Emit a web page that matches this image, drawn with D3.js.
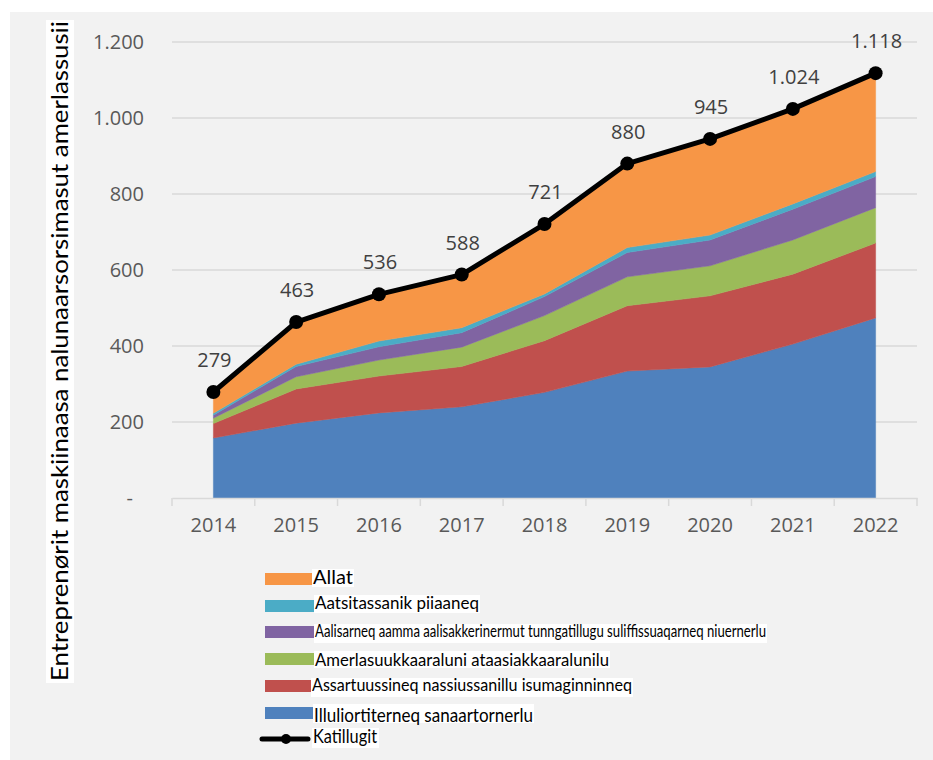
<!DOCTYPE html>
<html>
<head>
<meta charset="utf-8">
<script src="https://cdn.jsdelivr.net/npm/d3@7"></script>
<style>
  body { margin: 0; background: #fff; }
  svg { display: block; }
</style>
</head>
<body>
<div id="chart"></div>
<script>
var years = ["2014", "2015", "2016", "2017", "2018", "2019", "2020", "2021", "2022"];

// stacked series, bottom to top
var illuliortiterneq = [158, 197, 224, 240, 278, 334, 345, 405, 474];
var assartuussineq = [38, 90, 97, 106, 136, 172, 187, 184, 197];
var amerlasuukk = [14, 32, 42, 51, 66, 76, 79, 90, 93];
var aalisarneq = [8, 27, 35, 38, 50, 64, 68, 81, 82];
var aatsitassanik = [5, 6, 15, 13, 7, 13, 13, 14, 13];
var allat = [56, 111, 123, 140, 184, 221, 253, 250, 259];
var katillugit = [279, 463, 536, 588, 721, 880, 945, 1024, 1118];

var yTicks = [0, 200, 400, 600, 800, 1000, 1200];

var seriesNames = [
  "Illuliortiterneq sanaartornerlu",
  "Assartuussineq nassiussanillu isumaginninneq",
  "Amerlasuukkaaraluni ataasiakkaaralunilu",
  "Aalisarneq aamma aalisakkerinermut tunngatillugu suliffissuaqarneq niuernerlu",
  "Aatsitassanik piiaaneq",
  "Allat"
];
var seriesValues = [illuliortiterneq, assartuussineq, amerlasuukk, aalisarneq, aatsitassanik, allat];
var colors = ["#4f81bd", "#c0504d", "#9bbb59", "#8064a2", "#4bacc6", "#f79646"];

var width = 933, height = 760;
var svg = d3.select("#chart").append("svg")
  .attr("width", width)
  .attr("height", height);

svg.append("rect")
  .attr("x", 10).attr("y", 12)
  .attr("width", width - 10).attr("height", height - 12)
  .attr("fill", "#f2f2f2");

var x = d3.scaleBand().domain(years).range([172, 917]).padding(0);
var y = d3.scaleLinear().domain([0, 1200]).range([498, 42]);
var cx = function (yr) { return x(yr) + x.bandwidth() / 2; };

// gridlines
svg.append("g").selectAll("line")
  .data(yTicks.slice(1))
  .enter().append("line")
  .attr("x1", 172).attr("x2", 917)
  .attr("y1", function (d) { return y(d); })
  .attr("y2", function (d) { return y(d); })
  .attr("stroke", "#d9d9d9")
  .attr("stroke-width", 1.5);

// stacked areas
var table = years.map(function (yr, i) {
  var row = { year: yr };
  seriesNames.forEach(function (n, j) { row[n] = seriesValues[j][i]; });
  return row;
});
var stack = d3.stack().keys(seriesNames)(table);

var area = d3.area()
  .x(function (d) { return cx(d.data.year); })
  .y0(function (d) { return y(d[0]); })
  .y1(function (d) { return y(d[1]); });

svg.append("g").selectAll("path")
  .data(stack)
  .enter().append("path")
  .attr("d", area)
  .attr("fill", function (d, i) { return colors[i]; })
  .attr("stroke", function (d, i) { return colors[i]; })
  .attr("stroke-width", 0.5);

// x axis
var xAxis = svg.append("g")
  .attr("transform", "translate(0,498)")
  .call(d3.axisBottom(x).tickSize(0).tickPadding(20));
xAxis.select(".domain").attr("stroke", "#d9d9d9").attr("stroke-width", 1.5);
xAxis.selectAll("text")
  .attr("font-family", "'Open Sans', sans-serif")
  .attr("font-size", 20)
  .attr("fill", "#595959");
var bounds = years.map(function (yr) { return x(yr); }).concat([917]);
svg.append("g").selectAll("line")
  .data(bounds)
  .enter().append("line")
  .attr("x1", function (d) { return d; }).attr("x2", function (d) { return d; })
  .attr("y1", 498).attr("y2", 506)
  .attr("stroke", "#d9d9d9")
  .attr("stroke-width", 1.5);

// y axis labels
var fmt = function (d) {
  return d === 0 ? "-" : d3.format(",")(d).replace(",", ".");
};
svg.append("g").selectAll("text")
  .data(yTicks)
  .enter().append("text")
  .attr("x", function (d) { return d === 0 ? 133 : 144; })
  .attr("y", function (d) { return y(d); })
  .attr("dy", "0.35em")
  .attr("text-anchor", "end")
  .attr("font-family", "'Open Sans', sans-serif")
  .attr("font-size", 20)
  .attr("fill", "#595959")
  .text(fmt);

// y axis title
svg.append("rect")
  .attr("x", 46).attr("y", 20)
  .attr("width", 28).attr("height", 663)
  .attr("fill", "#fff");
svg.append("text")
  .attr("transform", "translate(68,681) rotate(-90)")
  .attr("font-family", "Lato, sans-serif")
  .attr("font-size", 24)
  .attr("fill", "#000")
  .attr("textLength", 660)
  .attr("lengthAdjust", "spacingAndGlyphs")
  .text("Entreprenørit maskiinaasa nalunaarsorsimasut amerlassusii");

// total line
var line = d3.line()
  .x(function (d, i) { return cx(years[i]); })
  .y(function (d) { return y(d); });
svg.append("path")
  .datum(katillugit)
  .attr("d", line)
  .attr("fill", "none")
  .attr("stroke", "#000")
  .attr("stroke-width", 5)
  .attr("stroke-linejoin", "round");
svg.append("g").selectAll("circle")
  .data(katillugit)
  .enter().append("circle")
  .attr("cx", function (d, i) { return cx(years[i]); })
  .attr("cy", function (d) { return y(d); })
  .attr("r", 7)
  .attr("fill", "#000");
svg.append("g").selectAll("text")
  .data(katillugit)
  .enter().append("text")
  .attr("x", function (d, i) { return cx(years[i]) + 1; })
  .attr("y", function (d) { return y(d) - 25; })
  .attr("text-anchor", "middle")
  .attr("font-family", "'Open Sans', sans-serif")
  .attr("font-size", 20)
  .attr("fill", "#404040")
  .text(fmt);

// legend
var legendItems = [
  { name: "Allat", color: colors[5], sy: 573, tx: 312, tb: 584, w: 40, fs: 20, by: 569, bh: 18 },
  { name: "Aatsitassanik piiaaneq", color: colors[4], sy: 600, tx: 314, tb: 609, w: 164, fs: 17, by: 595, bh: 18 },
  { name: seriesNames[3], color: colors[3], sy: 626, tx: 314, tb: 637, w: 451, fs: 17, by: 624, bh: 19 },
  { name: seriesNames[2], color: colors[2], sy: 653, tx: 314, tb: 666, w: 294, fs: 18, by: 651, bh: 17 },
  { name: seriesNames[1], color: colors[1], sy: 680, tx: 311, tb: 691, w: 320, fs: 17, by: 678, bh: 19 },
  { name: seriesNames[0], color: colors[0], sy: 707, tx: 313, tb: 722, w: 219, fs: 19, by: 704, bh: 19 }
];
var lg = svg.append("g");
legendItems.forEach(function (it) {
  lg.append("rect")
    .attr("x", 265).attr("y", it.sy)
    .attr("width", 52).attr("height", 12)
    .attr("fill", it.color);
  lg.append("rect")
    .attr("x", it.tx).attr("y", it.by)
    .attr("width", it.w + 2).attr("height", it.bh)
    .attr("fill", "#fff");
  lg.append("text")
    .attr("x", it.tx + 1).attr("y", it.tb)
    .attr("font-family", "Lato, sans-serif")
    .attr("font-size", it.fs)
    .attr("fill", "#000")
    .attr("textLength", it.w)
    .attr("lengthAdjust", "spacingAndGlyphs")
    .text(it.name);
});
lg.append("line")
  .attr("x1", 262).attr("x2", 308)
  .attr("y1", 739).attr("y2", 739)
  .attr("stroke", "#000").attr("stroke-width", 5)
  .attr("stroke-linecap", "round");
lg.append("circle").attr("cx", 286).attr("cy", 739).attr("r", 5).attr("fill", "#000");
lg.append("rect")
  .attr("x", 312).attr("y", 728)
  .attr("width", 67).attr("height", 20)
  .attr("fill", "#fff");
lg.append("text")
  .attr("x", 313).attr("y", 743)
  .attr("font-family", "Lato, sans-serif")
  .attr("font-size", 19)
  .attr("fill", "#000")
  .attr("textLength", 64)
  .attr("lengthAdjust", "spacingAndGlyphs")
  .text("Katillugit");
</script>
</body>
</html>
